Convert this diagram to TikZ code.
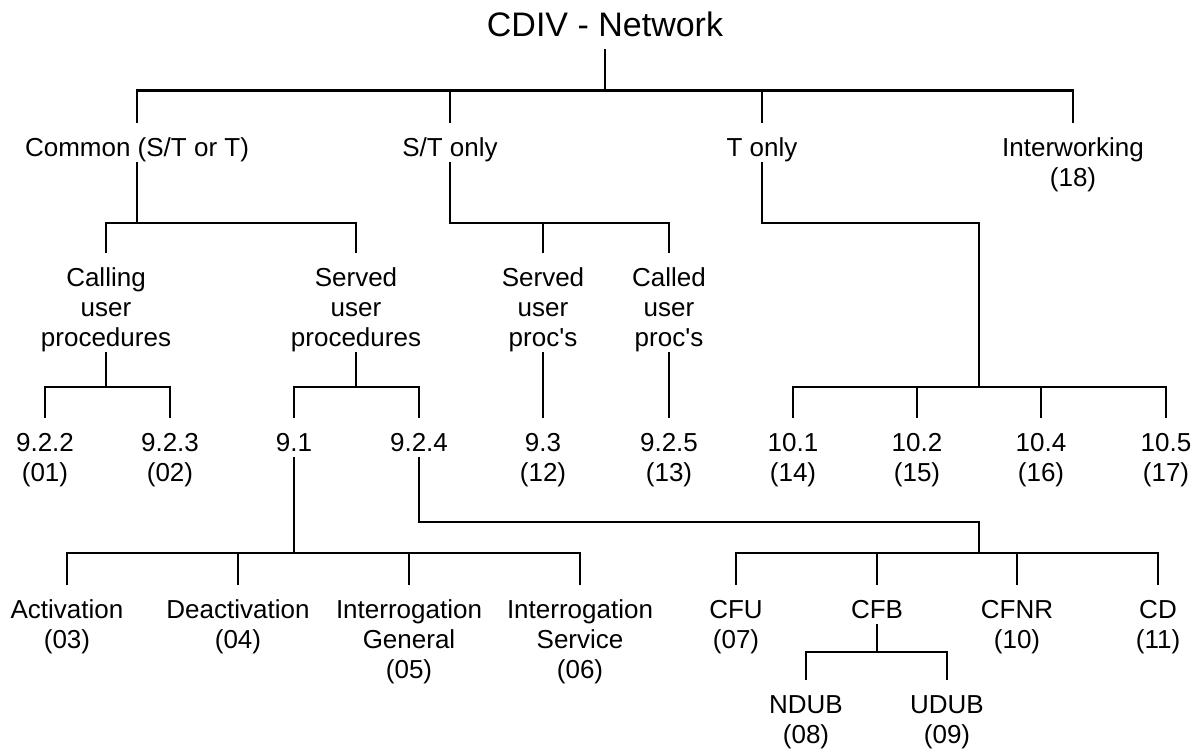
\documentclass[tikz,border=0pt]{standalone}
\usepackage{fontspec}
\setmainfont{Liberation Sans}
\newcommand\tstr{\rule{0pt}{33pt}}
\newcommand\bstr{\rule[-6pt]{0pt}{6pt}}
\tikzset{
  lbl/.style={anchor=north, inner sep=0pt, align=center, font=\fontsize{26}{30}\selectfont},
  conn/.style={draw=black, line width=2.2pt},
}
\begin{document}
\begin{tikzpicture}[x=1pt,y=-1pt]
\useasboundingbox (0,0) rectangle (1204,749);
% bar levels
\coordinate (barA) at (0,90.5);
\coordinate (barB) at (0,223);
\coordinate (barC) at (0,387);
\coordinate (barD) at (0,553);
\coordinate (barE) at (0,652);
\coordinate (tk) at (979,223);
\coordinate (cfk) at (979,522);
% title
\node[anchor=base, inner sep=0pt, text depth=12pt, font=\fontsize{34}{40}\selectfont] (root) at (605,37) {CDIV - Network};
% level 1
\node[lbl] (common) at (137,123) {\tstr Common (S/T or T)\bstr};
\node[lbl] (st) at (450,123) {\tstr S/T only\bstr};
\node[lbl] (t) at (762,123) {\tstr T only\bstr};
\node[lbl] (iw) at (1073,123) {\tstr Interworking\\(18)\bstr};
% level 2
\node[lbl] (calling) at (106,253) {\tstr Calling\\user\\procedures\bstr};
\node[lbl] (served) at (356,253) {\tstr Served\\user\\procedures\bstr};
\node[lbl] (sup) at (543,253) {\tstr Served\\user\\proc\textquotesingle s\bstr};
\node[lbl] (cup) at (669,253) {\tstr Called\\user\\proc\textquotesingle s\bstr};
% level 3
\node[lbl] (n922) at (45,418) {\tstr 9.2.2\\(01)\bstr};
\node[lbl] (n923) at (170,418) {\tstr 9.2.3\\(02)\bstr};
\node[lbl] (n91) at (294,418) {\tstr 9.1\bstr};
\node[lbl] (n924) at (419,418) {\tstr 9.2.4\bstr};
\node[lbl] (n93) at (543,418) {\tstr 9.3\\(12)\bstr};
\node[lbl] (n925) at (669,418) {\tstr 9.2.5\\(13)\bstr};
\node[lbl] (n101) at (793,418) {\tstr 10.1\\(14)\bstr};
\node[lbl] (n102) at (917,418) {\tstr 10.2\\(15)\bstr};
\node[lbl] (n104) at (1041,418) {\tstr 10.4\\(16)\bstr};
\node[lbl] (n105) at (1166,418) {\tstr 10.5\\(17)\bstr};
% level 4
\node[lbl] (act) at (67,585) {\tstr Activation\\(03)\bstr};
\node[lbl] (deact) at (238,585) {\tstr Deactivation\\(04)\bstr};
\node[lbl] (ig) at (409,585) {\tstr Interrogation\\General\\(05)\bstr};
\node[lbl] (is) at (580,585) {\tstr Interrogation\\Service\\(06)\bstr};
\node[lbl] (cfu) at (736,585) {\tstr CFU\\(07)\bstr};
\node[lbl] (cfb) at (877,585) {\tstr CFB\bstr};
\node[lbl] (cfnr) at (1017,585) {\tstr CFNR\\(10)\bstr};
\node[lbl] (cd) at (1158,585) {\tstr CD\\(11)\bstr};
% level 5
\node[lbl] (ndub) at (806,680) {\tstr NDUB\\(08)\bstr};
\node[lbl] (udub) at (947,680) {\tstr UDUB\\(09)\bstr};
% connectors: root
\draw[conn] (root.south) -- (root.south |- barA);
\draw[conn] (common.north) |- (iw.north |- barA) -- (iw.north);
\draw[conn] (st.north) -- (st.north |- barA);
\draw[conn] (t.north) -- (t.north |- barA);
% common
\draw[conn] (common.south) -- (common.south |- barB);
\draw[conn] (calling.north) |- (served.north |- barB) -- (served.north);
% S/T only
\draw[conn] (st.south) |- (cup.north |- barB) -- (cup.north);
\draw[conn] (sup.north) -- (sup.north |- barB);
% T only
\draw[conn] (t.south) |- (tk) -- (tk |- barC);
\draw[conn] (n101.north) |- (n105.north |- barC) -- (n105.north);
\draw[conn] (n102.north) -- (n102.north |- barC);
\draw[conn] (n104.north) -- (n104.north |- barC);
% calling
\draw[conn] (calling.south) -- (calling.south |- barC);
\draw[conn] (n922.north) |- (n923.north |- barC) -- (n923.north);
% served
\draw[conn] (served.south) -- (served.south |- barC);
\draw[conn] (n91.north) |- (n924.north |- barC) -- (n924.north);
% served/called proc's
\draw[conn] (sup.south) -- (n93.north);
\draw[conn] (cup.south) -- (n925.north);
% 9.1
\draw[conn] (n91.south) -- (n91.south |- barD);
\draw[conn] (act.north) |- (is.north |- barD) -- (is.north);
\draw[conn] (deact.north) -- (deact.north |- barD);
\draw[conn] (ig.north) -- (ig.north |- barD);
% 9.2.4
\draw[conn] (n924.south) |- (cfk) -- (cfk |- barD);
\draw[conn] (cfu.north) |- (cd.north |- barD) -- (cd.north);
\draw[conn] (cfb.north) -- (cfb.north |- barD);
\draw[conn] (cfnr.north) -- (cfnr.north |- barD);
% CFB
\draw[conn] (cfb.south) -- (cfb.south |- barE);
\draw[conn] (ndub.north) |- (udub.north |- barE) -- (udub.north);
\end{tikzpicture}
\end{document}
